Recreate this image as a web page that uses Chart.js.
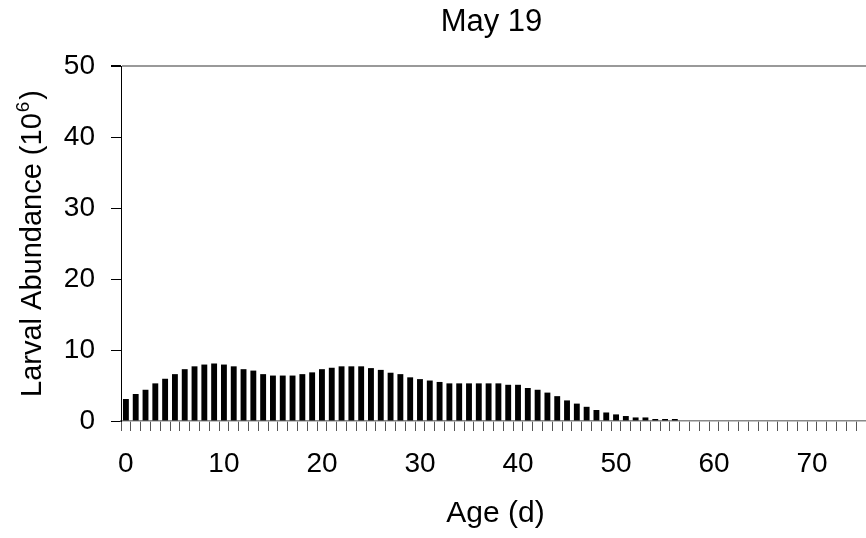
<!DOCTYPE html>
<html>
<head>
<meta charset="utf-8">
<script src="https://cdn.jsdelivr.net/npm/chart.js@4"></script>
<style>
  html, body { margin: 0; padding: 0; background: #fff; }
  #wrap { width: 866px; height: 538px; }
</style>
</head>
<body>
<div id="wrap"><canvas id="larvae-chart" width="866" height="538"></canvas></div>
<script>
// ages (days) on the x axis
let ages = ['0','1','2','3','4','5','6','7','8','9','10','11','12','13','14','15','16','17','18','19',
    '20','21','22','23','24','25','26','27','28','29','30','31','32','33','34','35','36','37','38','39',
    '40','41','42','43','44','45','46','47','48','49','50','51','52','53','54','55','56','57','58','59',
    '60','61','62','63','64','65','66','67','68','69','70','71','72','73','74','75'];
// larval abundance per age, millions
let abundance = [3.1,3.8,4.4,5.3,5.95,6.6,7.3,7.7,7.95,8.1,7.95,7.7,7.3,7.1,6.6,6.4,6.4,6.4,6.6,6.85,
    7.3,7.5,7.7,7.7,7.7,7.45,7.2,6.8,6.6,6.15,5.9,5.7,5.5,5.3,5.3,5.3,5.3,5.3,5.3,5.1,
    5.1,4.65,4.4,4.0,3.5,2.9,2.45,2.0,1.55,1.2,0.93,0.7,0.5,0.5,0.28,0.28,0.28,0,0,0,
    0,0,0,0,0,0,0,0,0,0,0,0,0,0,0,0];
// labelled ticks
let x_tick_labels = ['0','10','20','30','40','50','60','70'];
let y_ticks = [0, 10, 20, 30, 40, 50];

let font_family = "'Liberation Sans', Arial, sans-serif";

// title and axis titles (y title needs a superscript)
let text_plugin = {
    id: 'chartTexts',
    afterDraw(chart) {
        let ctx = chart.ctx;
        let area = chart.chartArea;
        let mid_x = (area.left + area.right) / 2;
        ctx.save();
        ctx.fillStyle = '#000';
        ctx.textBaseline = 'middle';
        ctx.textAlign = 'center';
        ctx.font = '31px ' + font_family;
        ctx.fillText('May 19', mid_x - 2, 22);
        ctx.font = '30px ' + font_family;
        ctx.fillText('Age (d)', mid_x + 2, 514);

        // y title, rotated
        let main = 'Larval Abundance (10';
        let sup = '6';
        let close = ')';
        ctx.font = '29px ' + font_family;
        let w_main = ctx.measureText(main).width;
        let w_close = ctx.measureText(close).width;
        ctx.font = '19px ' + font_family;
        let w_sup = ctx.measureText(sup).width;
        let total = w_main + w_sup + w_close + 3;
        ctx.translate(30, (area.top + area.bottom) / 2);
        ctx.rotate(-Math.PI / 2);
        ctx.textAlign = 'left';
        ctx.textBaseline = 'alphabetic';
        let x = -total / 2;
        ctx.font = '29px ' + font_family;
        ctx.fillText(main, x, 11);
        x += w_main;
        ctx.font = '19px ' + font_family;
        ctx.fillText(sup, x + 1, -1);
        x += w_sup + 3;
        ctx.font = '29px ' + font_family;
        ctx.fillText(close, x, 11);
        ctx.restore();
    }
};

let larvae_chart = new Chart(document.getElementById('larvae-chart').getContext('2d'), {
    type: 'bar',
    data: {
        labels: ages,
        datasets: [{
            label: 'abundance',
            data: abundance,
            backgroundColor: '#000',
            borderWidth: 0,
            barPercentage: 0.6,
            categoryPercentage: 1.0
        }]
    },
    options: {
        responsive: false,
        animation: false,
        layout: { padding: { top: 66, right: 0, left: 0, bottom: 0 } },
        plugins: {
            legend: { display: false },
            title: { display: false },
            tooltip: { enabled: false }
        },
        scales: {
            x: {
                type: 'category',
                grid: {
                    offset: true,
                    drawOnChartArea: false,
                    drawTicks: true,
                    tickLength: 10,
                    tickColor: '#555',
                    tickWidth: 1
                },
                border: { color: '#888', width: 1.5 },
                ticks: {
                    autoSkip: false,
                    maxRotation: 0,
                    padding: 16,
                    color: '#000',
                    font: { family: font_family, size: 28 },
                    callback: function (value) {
                        let lbl = this.getLabelForValue(value);
                        return x_tick_labels.includes(lbl) ? lbl : '';
                    }
                },
                afterFit(scale) {
                    scale.height = 117;
                    scale.paddingLeft = 0;
                    scale.paddingRight = 0;
                }
            },
            y: {
                min: y_ticks[0],
                max: y_ticks[y_ticks.length - 1],
                grid: {
                    color: ctx => ctx.tick && ctx.tick.value === 50 ? '#999' : 'rgba(0,0,0,0)',
                    lineWidth: ctx => ctx.tick && ctx.tick.value === 50 ? 2 : 1,
                    tickColor: '#000',
                    tickLength: 10,
                    drawTicks: true
                },
                border: { color: '#000', width: 1 },
                ticks: {
                    stepSize: 10,
                    padding: 16,
                    color: '#000',
                    font: { family: font_family, size: 28 }
                },
                afterFit(scale) {
                    scale.width = 121;
                    scale.paddingTop = 0;
                    scale.paddingBottom = 0;
                }
            }
        }
    },
    plugins: [text_plugin]
});
</script>
</body>
</html>
